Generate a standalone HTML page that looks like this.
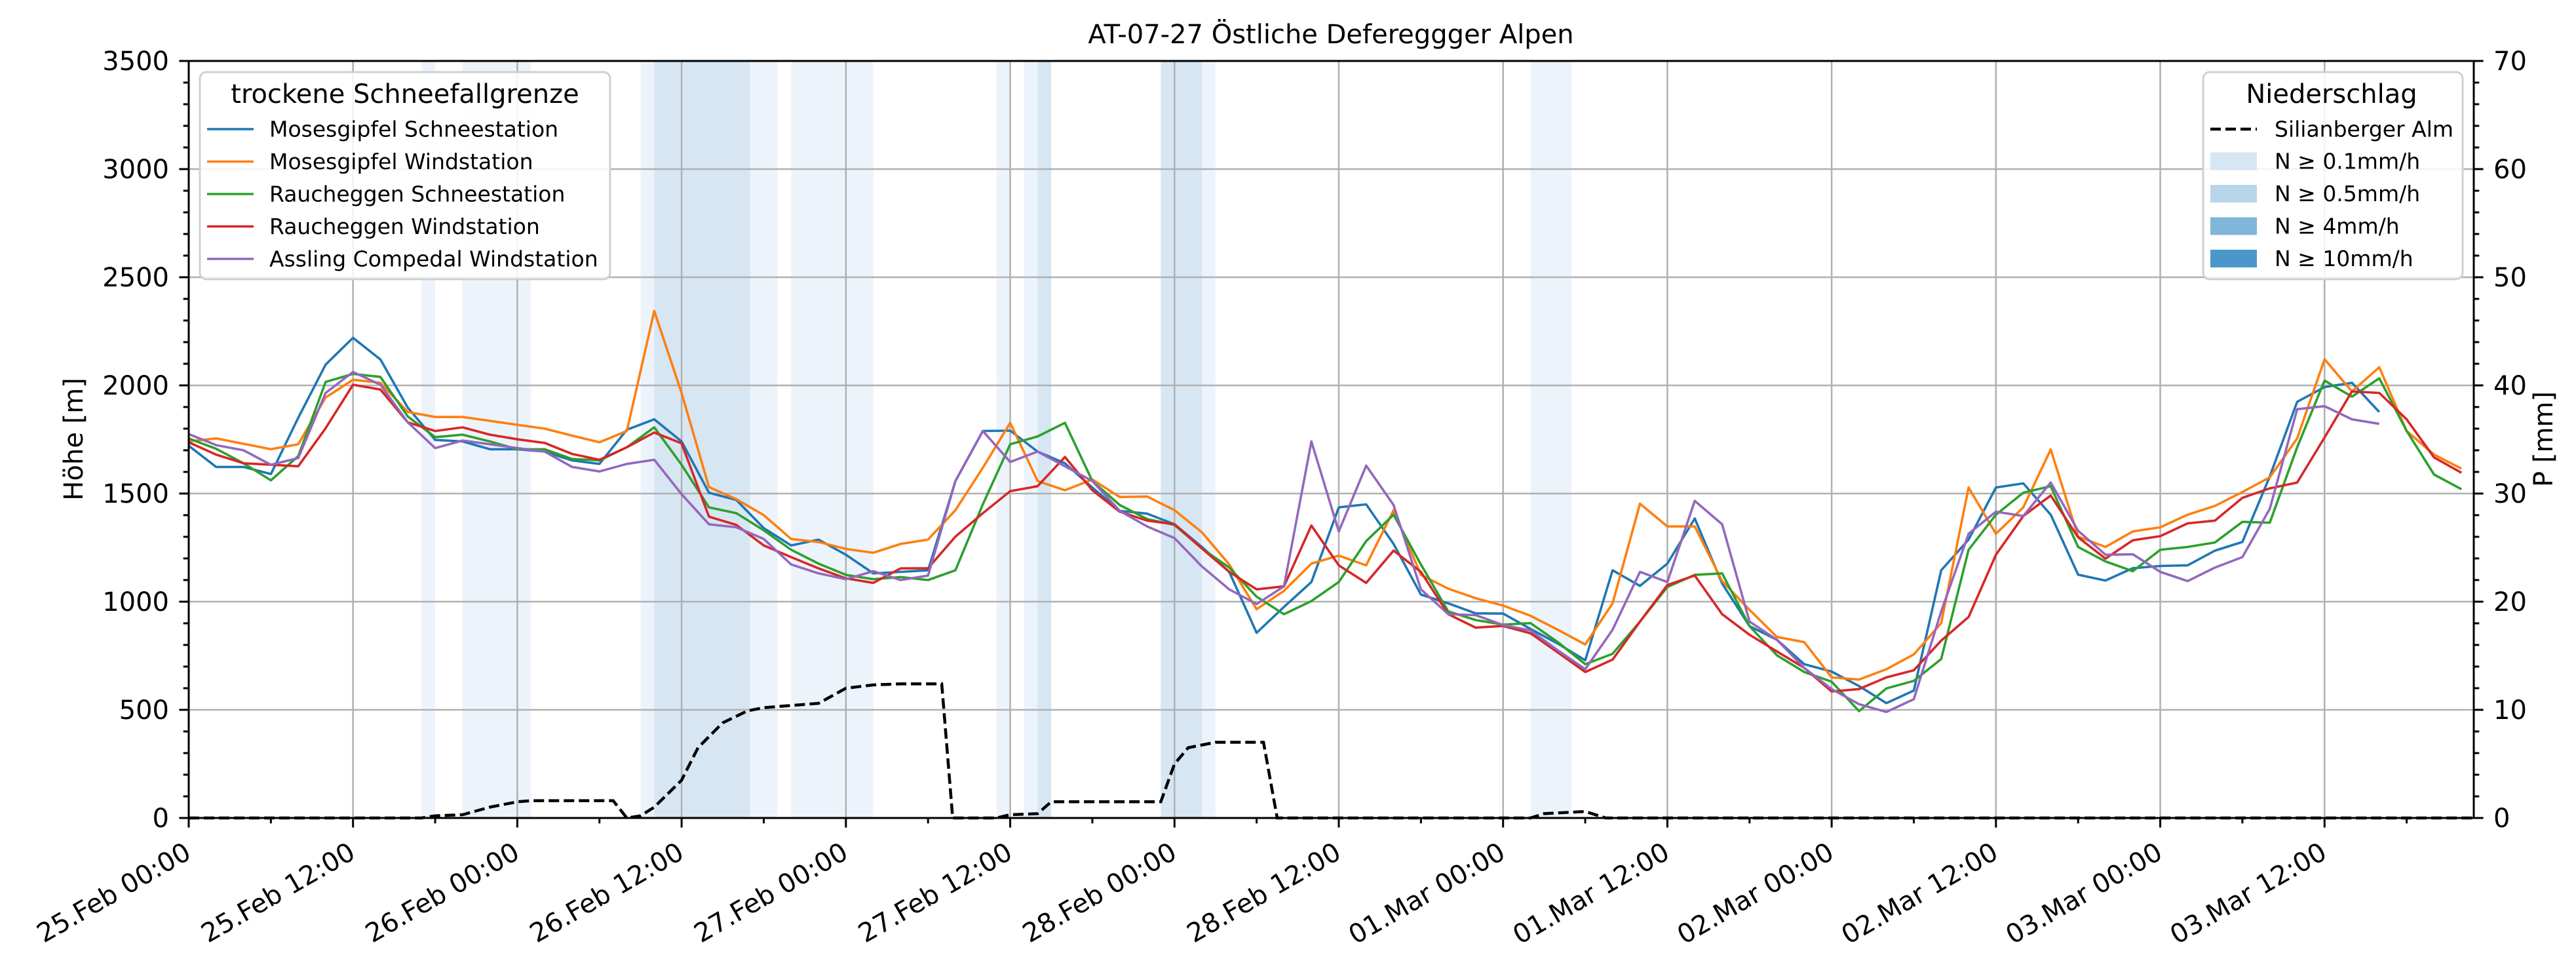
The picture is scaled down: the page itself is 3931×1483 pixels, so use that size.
<!DOCTYPE html>
<html><head><meta charset="utf-8"><title>AT-07-27 Östliche Defereggger Alpen</title>
<style>
html,body{margin:0;padding:0;background:#fff;}
svg{display:block;font-family:"DejaVu Sans","Liberation Sans",sans-serif;}
</style></head>
<body>
<svg id="chart" width="3931" height="1483" viewBox="0 0 3931 1483" xmlns="http://www.w3.org/2000/svg">
<text x="2031" y="66" font-size="40" text-anchor="middle">AT-07-27 Östliche Defereggger Alpen</text>
<g id="bands"></g><g id="grid"></g><g id="series"></g><g id="axes"></g><g id="legends"></g>
</svg>
<script>
const hours = Array.from({length:84},(_, i)=>i*2);
const seriesNames = ["Mosesgipfel Schneestation","Mosesgipfel Windstation","Raucheggen Schneestation","Raucheggen Windstation","Assling Compedal Windstation"];
const seriesColors = ["#1f77b4","#ff7f0e","#2ca02c","#d62728","#9467bd"];
const mosesSchnee = [1721,1623,1623,1590,1850,2096,2220,2120,1897,1748,1741,1705,1705,1694,1653,1637,1795,1843,1741,1504,1470,
1340,1260,1287,1217,1131,1138,1145,1558,1789,1791,1694,1640,1528,1420,1407,1358,1253,1138,856,976,1091,
1436,1450,1267,1033,992,946,945,874,806,729,1145,1073,1176,1385,1084,887,824,711,677,610,531,
589,1145,1287,1528,1547,1402,1125,1098,1155,1165,1168,1236,1276,1579,1924,1992,2012,1877,null,null,null];
const mosesWind = [1741,1755,1730,1705,1728,1944,2026,2012,1877,1854,1854,1836,1818,1800,1768,1737,1789,2344,1965,1530,1474,
1400,1290,1276,1244,1226,1267,1287,1423,1619,1827,1558,1515,1565,1484,1486,1423,1321,1172,965,1050,1176,
1213,1168,1423,1124,1060,1016,982,935,870,802,992,1453,1348,1348,1095,962,837,813,650,640,688,
756,901,1528,1314,1436,1704,1301,1253,1325,1344,1402,1443,1507,1575,1755,2121,1972,2084,1789,1680,1615];
const rauchSchnee = [1755,1707,1640,1561,1673,2016,2053,2039,1856,1761,1772,1741,1705,1705,1660,1653,1714,1806,1633,1436,1409,
1330,1240,1176,1124,1104,1114,1100,1145,1450,1728,1764,1827,1558,1447,1382,1355,1246,1158,1023,942,1003,
1091,1280,1402,1172,955,915,894,901,813,711,759,908,1068,1124,1131,887,752,675,630,494,599,
634,735,1240,1402,1504,1534,1253,1186,1141,1240,1253,1274,1369,1365,1714,2022,1948,2033,1789,1588,1520];
const rauchWind = [1737,1680,1640,1633,1626,1802,2003,1981,1829,1789,1806,1772,1751,1734,1683,1656,1714,1782,1732,1393,1355,
1260,1206,1154,1108,1087,1154,1155,1301,1409,1511,1534,1669,1515,1416,1375,1358,1246,1138,1057,1071,1352,
1168,1087,1236,1138,942,880,888,854,765,675,732,908,1077,1121,942,847,770,694,585,596,650,
683,820,929,1217,1396,1491,1298,1199,1284,1303,1362,1375,1480,1524,1551,1759,1972,1965,1843,1667,1596];
const asslingWind = [1775,1724,1700,1633,1664,1965,2062,2003,1829,1710,1745,1728,1710,1694,1623,1602,1637,1656,1497,1358,1344,
1290,1172,1131,1104,1141,1100,1121,1558,1789,1646,1694,1626,1558,1420,1348,1294,1163,1057,989,1071,1741,
1325,1629,1447,1057,942,938,892,867,775,688,870,1138,1091,1466,1358,908,824,694,596,526,490,
549,955,1314,1416,1396,1551,1328,1217,1219,1138,1095,1158,1206,1429,1890,1904,1843,1822,null,null,null];
const precipHours = [0,17,18,20,22,24,25,31,32,33,34,36,37.2,39,40.8,42,44,46,48,50,52,55,55.8,59,60,62,63,71,72,73,75,78.5,79.5,98,99,102,103.5,167];
const precipValues = [0,0,0.2,0.3,1,1.5,1.6,1.6,0,0.2,1,3.5,6.5,8.8,9.9,10.2,10.4,10.6,12,12.3,12.4,12.4,0,0,0.3,0.4,1.5,1.5,5,6.5,7,7,0,0,0.4,0.6,0,0];
const bandLightStart = [17,20,33,41,44,59,61,74,98];
const bandLightEnd   = [18,25,34,43,50,60,62,75,101];
const bandMedStart = [34,62,71];
const bandMedEnd   = [41,63,74];
const yTicks = [0,500,1000,1500,2000,2500,3000,3500];
const pTicks = [0,10,20,30,40,50,60,70];
const xTickHours = [0,12,24,36,48,60,72,84,96,108,120,132,144,156];
const xTickLabels = ["25.Feb 00:00","25.Feb 12:00","26.Feb 00:00","26.Feb 12:00","27.Feb 00:00","27.Feb 12:00","28.Feb 00:00","28.Feb 12:00","01.Mar 00:00","01.Mar 12:00","02.Mar 00:00","02.Mar 12:00","03.Mar 00:00","03.Mar 12:00"];

const L=288,R=3775,T=93,B=1248,XMAX=166.9;
const xs=h=>L+(R-L)*h/XMAX;
const ys=v=>B-(B-T)*v/3500;
const yp=p=>B-(B-T)*p/70;
const NS="http://www.w3.org/2000/svg";
function mk(tag,attrs,parent){const e=document.createElementNS(NS,tag);for(const k in attrs)e.setAttribute(k,attrs[k]);parent.appendChild(e);return e;}

const gb=document.getElementById('bands');
bandLightStart.forEach((s,i)=>{const r=mk('rect',{x:xs(s),y:T,width:xs(bandLightEnd[i])-xs(s),height:B-T,fill:'#edf3fa'},gb);

});
bandMedStart.forEach((s,i)=>{const r=mk('rect',{x:xs(s),y:T,width:xs(bandMedEnd[i])-xs(s),height:B-T,fill:'#d7e6f3'},gb);

});

const gg=document.getElementById('grid');
xTickHours.forEach(h=>{const l=mk('line',{x1:xs(h),x2:xs(h),y1:T,y2:B,stroke:'#b0b0b0','stroke-width':2.5},gg);

});
yTicks.forEach(v=>{const l=mk('line',{x1:L,x2:R,y1:ys(v),y2:ys(v),stroke:'#b0b0b0','stroke-width':2.5},gg);

});

const gs=document.getElementById('series');
const allSeries=[mosesSchnee,mosesWind,rauchSchnee,rauchWind,asslingWind];
const seriesKeys=['mosesgipfel-schneestation-line','mosesgipfel-windstation-line','raucheggen-schneestation-line','raucheggen-windstation-line','assling-compedal-windstation-line'];
allSeries.forEach((arr,si)=>{let d='';let pen=false;
 arr.forEach((v,i)=>{if(v==null){pen=false;return;}d+=(pen?'L':'M')+xs(hours[i]).toFixed(1)+','+ys(v).toFixed(1);pen=true;});
 const p=mk('path',{d:d,fill:'none',stroke:seriesColors[si],'stroke-width':3.6,'stroke-linejoin':'round'},gs);
 
 });
let pd='';precipHours.forEach((h,i)=>{pd+=(i?'L':'M')+xs(h).toFixed(1)+','+yp(precipValues[i]).toFixed(1);});
const pp=mk('path',{d:pd,fill:'none',stroke:'#000','stroke-width':4.5,'stroke-dasharray':'16,7'},gs);



const ga=document.getElementById('axes');
mk('rect',{x:L,y:T,width:R-L,height:B-T,fill:'none',stroke:'#000','stroke-width':3},ga);
for(let v=0;v<=3500;v+=100){const major=v%500===0;mk('line',{x1:L,x2:L-(major?14.6:8.3),y1:ys(v),y2:ys(v),stroke:'#000','stroke-width':3},ga);}
for(let p=0;p<=70;p+=2){const major=p%10===0;mk('line',{x1:R,x2:R+(major?14.6:8.3),y1:yp(p),y2:yp(p),stroke:'#000','stroke-width':3},ga);}
for(let h=0;h<=XMAX;h+=6){const major=h%12===0;mk('line',{x1:xs(h),x2:xs(h),y1:B,y2:B+(major?14.6:8.3),stroke:'#000','stroke-width':3},ga);}
yTicks.forEach(v=>{const t=mk('text',{x:258,y:ys(v)+14,'font-size':40,'text-anchor':'end'},ga);t.textContent=v;

});
pTicks.forEach(p=>{const t=mk('text',{x:3805,y:yp(p)+14,'font-size':40,'text-anchor':'start'},ga);t.textContent=p;

});
xTickHours.forEach((h,i)=>{const x=xs(h)+6,y=1308;const t=mk('text',{x:x,y:y,'font-size':40,'text-anchor':'end',transform:`rotate(-30 ${x} ${y})`},ga);t.textContent=xTickLabels[i];

});
const yl=mk('text',{x:126,y:670,'font-size':40,'text-anchor':'middle',transform:'rotate(-90 126 670)'},ga);yl.textContent='Höhe [m]';


const pl=mk('text',{x:3895,y:670,'font-size':40,'text-anchor':'middle',transform:'rotate(-90 3895 670)'},ga);pl.textContent='P [mm]';



const gl=document.getElementById('legends');
const lb=mk('rect',{x:305,y:110,width:626,height:316,rx:10,fill:'#fff','fill-opacity':0.85,stroke:'#d0d0d0','stroke-width':3},gl);


const lt=mk('text',{x:618,y:157,'font-size':40,'text-anchor':'middle'},gl);lt.textContent='trockene Schneefallgrenze';


seriesNames.forEach((n,i)=>{const y=197+i*49.5;
 mk('line',{x1:316,x2:387,y1:y,y2:y,stroke:seriesColors[i],'stroke-width':3.6},gl);
 const t=mk('text',{x:411,y:y+11.5,'font-size':33},gl);t.textContent=n;
 
 });
const rb=mk('rect',{x:3362,y:110,width:396,height:316,rx:10,fill:'#fff','fill-opacity':0.85,stroke:'#d0d0d0','stroke-width':3},gl);


const rt=mk('text',{x:3558,y:157,'font-size':40,'text-anchor':'middle'},gl);rt.textContent='Niederschlag';


mk('line',{x1:3373,x2:3444,y1:197,y2:197,stroke:'#000','stroke-width':4.5,'stroke-dasharray':'16,7'},gl);
const pl0=mk('text',{x:3471,y:208.5,'font-size':33},gl);pl0.textContent='Silianberger Alm';


const patchColors=['#d7e6f3','#b9d5ea','#80b6d7','#4a97c9'];
const patchLabels=['N ≥ 0.1mm/h','N ≥ 0.5mm/h','N ≥ 4mm/h','N ≥ 10mm/h'];
patchLabels.forEach((lab,i)=>{const y=246+i*49.5;
 mk('rect',{x:3373,y:y-13.5,width:71,height:27,fill:patchColors[i]},gl);
 const t=mk('text',{x:3471,y:y+11.5,'font-size':33},gl);t.textContent=lab;
 
 });
</script>
</body></html>
